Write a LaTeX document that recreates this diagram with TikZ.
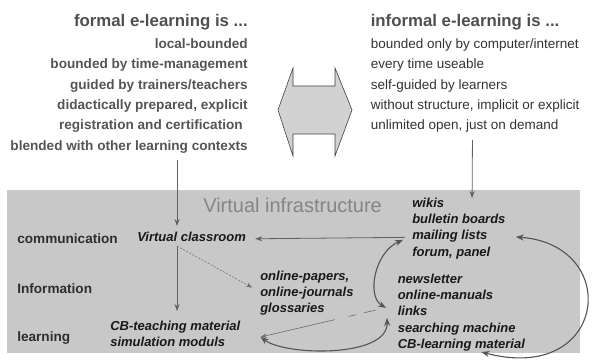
\documentclass[tikz,border=0pt]{standalone}
\usepackage{fontspec}
\setmainfont{Liberation Sans}
\usetikzlibrary{arrows.meta,calc}

\newlength{\du}
\setlength{\du}{10\unitlength}

\begin{document}
\begin{tikzpicture}[
  every node/.style={inner sep=0pt},
  headtext/.style={font=\fontsize{16.8}{20}\selectfont\bfseries,text=headgray},
  formaltext/.style={font=\fontsize{13.6}{20}\selectfont\bfseries,text=formalgray},
  informaltext/.style={font=\fontsize{13.5}{20}\selectfont,text=informalgray},
  rowtext/.style={font=\fontsize{13.6}{16}\selectfont\bfseries,text=rowgray},
  mediatext/.style={font=\fontsize{13}{16}\selectfont\bfseries\itshape,text=mediaink},
  dropline/.style={draw=linegray,line width=0.8pt,-{Stealth[length=7pt,width=5pt]}},
  hintline/.style={draw=hintgray,line width=0.5pt,dash pattern=on 2pt off 1.5pt,-{Stealth[length=6pt,width=4.5pt]}},
  crossline/.style={draw=hintgray,line width=0.6pt,dash pattern=on 0pt off 5pt on 12pt off 8pt on 8pt off 14pt on 90pt off 2pt,-{Stealth[length=6pt,width=4.5pt]}},
  swapline/.style={draw=swapgray,line width=1.1pt,{Stealth[length=8pt,width=6pt]}-{Stealth[length=8pt,width=6pt]}},
]
\pgftransformxscale{0.100000}
\pgftransformyscale{-0.100000}
\definecolor{boxfill}{rgb}{0.784314, 0.784314, 0.784314}
\definecolor{arrowfill}{rgb}{0.823529, 0.823529, 0.823529}
\definecolor{arrowedge}{rgb}{0.250000, 0.250000, 0.250000}
\definecolor{headgray}{rgb}{0.310000, 0.310000, 0.310000}
\definecolor{formalgray}{rgb}{0.330000, 0.330000, 0.330000}
\definecolor{informalgray}{rgb}{0.200000, 0.200000, 0.200000}
\definecolor{titlegray}{rgb}{0.520000, 0.520000, 0.520000}
\definecolor{rowgray}{rgb}{0.180000, 0.180000, 0.180000}
\definecolor{mediaink}{rgb}{0.100000, 0.100000, 0.100000}
\definecolor{linegray}{rgb}{0.380000, 0.380000, 0.380000}
\definecolor{hintgray}{rgb}{0.420000, 0.420000, 0.420000}
\definecolor{swapgray}{rgb}{0.330000, 0.330000, 0.330000}
\useasboundingbox (0\du,0\du) rectangle (602\du,361\du);
% infrastructure box
{
\pgfsetlinewidth{0.000000\du}
\pgfsetdash{}{0pt}
\fill[boxfill] (7.000000\du,190.000000\du) rectangle (580.000000\du,353.000000\du);
}
% double arrow between formal and informal
{
\pgfsetlinewidth{0.600000pt}
\pgfsetdash{}{0pt}
\pgfsetmiterjoin
\filldraw[fill=arrowfill,draw=arrowedge] (278.000000\du,110.000000\du)--(293.000000\du,68.000000\du)--(293.000000\du,86.000000\du)--(335.000000\du,86.000000\du)--(335.000000\du,68.000000\du)--(352.000000\du,110.000000\du)--(335.000000\du,156.000000\du)--(335.000000\du,134.000000\du)--(293.000000\du,134.000000\du)--(293.000000\du,156.000000\du)--cycle;
}
% setfont left to latex
\node[headtext,anchor=base east] (formalhead) at (248.000000\du,27.000000\du){formal e-learning is ...};
\node[formaltext,anchor=base east] (formal1) at (248.000000\du,48.500000\du){local-bounded};
\node[formaltext,anchor=base east] (formal2) at (248.000000\du,69.000000\du){bounded by time-management};
\node[formaltext,anchor=base east] (formal3) at (248.000000\du,89.500000\du){guided by trainers/teachers};
\node[formaltext,anchor=base east] (formal4) at (248.000000\du,109.500000\du){didactically prepared, explicit};
\node[formaltext,anchor=base east] (formal5) at (243.000000\du,129.500000\du){registration and certification};
\node[formaltext,anchor=base east] (formal6) at (248.000000\du,150.500000\du){blended with other learning contexts};
\node[headtext,anchor=base west] (informalhead) at (370.500000\du,27.000000\du){informal e-learning is ...};
\node[informaltext,anchor=base west] (informal1) at (370.500000\du,48.500000\du){bounded only by computer/internet};
\node[informaltext,anchor=base west] (informal2) at (370.500000\du,69.000000\du){every time useable};
\node[informaltext,anchor=base west] (informal3) at (370.500000\du,89.500000\du){self-guided by learners};
\node[informaltext,anchor=base west] (informal4) at (370.500000\du,109.500000\du){without structure, implicit or explicit};
\node[informaltext,anchor=base west] (informal5) at (370.500000\du,129.500000\du){unlimited open, just on demand};
% setfont left to latex
\node[anchor=base west,text=titlegray,font=\fontsize{20}{24}\selectfont] (infra) at (203.000000\du,213.000000\du){Virtual infrastructure};
\node[rowtext,anchor=base west] (communication) at (17.000000\du,243.500000\du){communication};
\node[rowtext,anchor=base west] (information) at (17.000000\du,293.500000\du){Information};
\node[rowtext,anchor=base west] (learning) at (17.000000\du,342.000000\du){learning};
\node[mediatext,anchor=base west] (vc) at (137.000000\du,241.500000\du){Virtual classroom};
\node[mediatext,anchor=base west] (online1) at (260.000000\du,280.500000\du){online-papers,};
\node[mediatext,anchor=base west] (online2) at (260.000000\du,296.500000\du){online-journals};
\node[mediatext,anchor=base west] (online3) at (260.000000\du,312.500000\du){glossaries};
\node[mediatext,anchor=base west] (cb1) at (110.000000\du,330.500000\du){CB-teaching material};
\node[mediatext,anchor=base west] (cb2) at (110.000000\du,347.000000\du){simulation moduls};
\node[mediatext,anchor=base west] (wikis) at (412.000000\du,207.500000\du){wikis};
\node[mediatext,anchor=base west] (boards) at (412.000000\du,223.700000\du){bulletin boards};
\node[mediatext,anchor=base west] (mail) at (412.000000\du,239.900000\du){mailing lists};
\node[mediatext,anchor=base west] (forum) at (412.000000\du,256.100000\du){forum, panel};
\node[mediatext,anchor=base west] (newsletter) at (397.500000\du,283.500000\du){newsletter};
\node[mediatext,anchor=base west] (manuals) at (397.500000\du,299.700000\du){online-manuals};
\node[mediatext,anchor=base west] (links) at (397.500000\du,315.900000\du){links};
\node[mediatext,anchor=base west] (search) at (397.500000\du,332.100000\du){searching machine};
\node[mediatext,anchor=base west] (cblearn) at (397.500000\du,348.300000\du){CB-learning material};
\coordinate (vcdrop) at ($(vc.base west)+(40\du,4.5\du)$);
% connectors
\draw[dropline,shorten <=9.5pt,shorten >=15.5pt] (vcdrop |- formal6.base) -- (vcdrop |- vc.base);
\draw[dropline,shorten <=10.5pt,shorten >=9.5pt] ($(informal5.base west)+(102\du,0\du)$) -- ($(wikis.base west)+(60\du,0\du)$);
\draw[dropline,shorten >=19.5pt] (vcdrop) -- (vcdrop |- cb1.base);
\draw[hintline] (vcdrop) -- ($(online2.base west)+(-8\du,-9\du)$);
\draw[dropline,shorten <=7pt,shorten >=9pt] (mail.mid west) -- (vc.mid east);
\draw[crossline] ($(links.base west)+(-17\du,-7\du)$) -- ($(cb1.base east)+(20\du,6.5\du)$);
\draw[swapline] ($(mail.base west)+(-9\du,0\du)$) .. controls +(-28\du,12\du) and +(-20\du,-12\du) .. ($(links.base west)+(-11.5\du,-8\du)$);
\draw[swapline] ($(cb1.base east)+(20\du,6.5\du)$) .. controls +(25\du,19\du) and +(1\du,40\du) .. ($(links.base west)+(-10.5\du,2\du)$);
\draw[swapline] ($(mail.base east)+(28\du,-3\du)$) .. controls +(107\du,8\du) and +(126\du,33\du) .. ($(cblearn.base)+(20\du,3.7\du)$);
\end{tikzpicture}
\end{document}
